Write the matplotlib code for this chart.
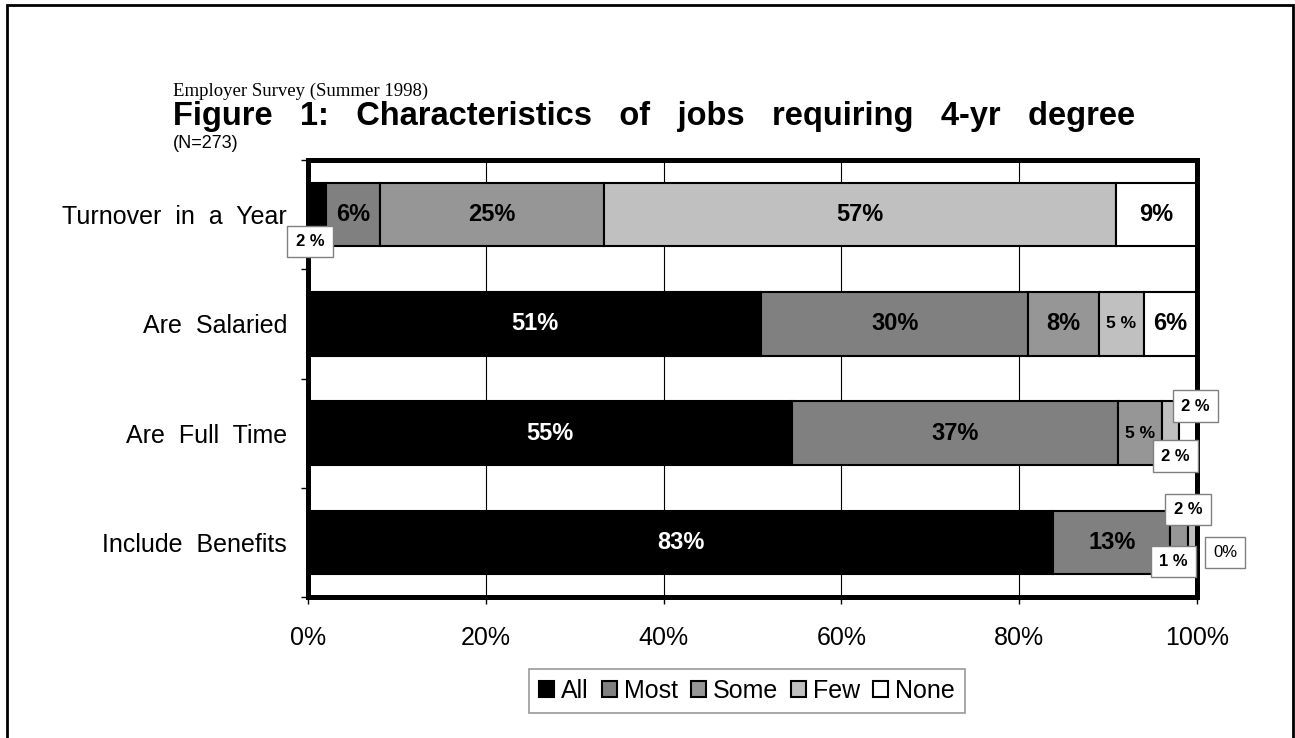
import numpy as np
import matplotlib.pyplot as plt
from matplotlib.patches import Rectangle

plt.rcParams['font.family'] = ['Liberation Sans', 'DejaVu Sans']

categories = ['Turnover in a Year', 'Are Salaried', 'Are Full Time', 'Include Benefits']
series = ['All', 'Most', 'Some', 'Few', 'None']
all_pct = [2, 51, 55, 83]
most_pct = [6, 30, 37, 13]
some_pct = [25, 8, 5, 2]
few_pct = [57, 5, 2, 1]
none_pct = [9, 6, 2, 0]
xtick_vals = [0, 20, 40, 60, 80, 100]

colors = ['#000000', '#808080', '#969696', '#c0c0c0', '#ffffff']

# labels moved off the bar for narrow segments: (row, series) -> offset in pixels
callouts = {(0, 0): (-7, -27), (2, 3): (5, -23), (2, 4): (7, 27),
            (3, 2): (9, 33), (3, 3): (-19, -19), (3, 4): (28, -10)}
small_inline = {(1, 3), (2, 2)}


def spaced(s, n=2):
    # wider word gaps
    return (' ' * n).join(s.split(' '))


data = np.array([all_pct, most_pct, some_pct, few_pct, none_pct], dtype=float).T
shares = data / data.sum(axis=1, keepdims=True) * 100  # 100% stacked
ypos = np.arange(len(categories))[::-1]

fig = plt.figure(figsize=(12.95, 7.38), dpi=100)
ax = fig.add_axes([308 / 1295, 1 - 597 / 738, 889 / 1295, 437 / 738])

left = np.zeros(len(categories))
for j, name in enumerate(series):
    ax.barh(ypos, shares[:, j], left=left, height=0.58, color=colors[j],
            edgecolor='black', linewidth=1.5, label=name, zorder=2)
    for i in range(len(categories)):
        v = int(data[i, j])
        cx = left[i] + shares[i, j] / 2
        if (i, j) in callouts:
            dx, dy = callouts[(i, j)]
            txt = f'{v}%' if v == 0 else f'{v} %'
            ax.annotate(txt, (cx, ypos[i]), xytext=(dx, dy), textcoords='offset pixels',
                        ha='center', va='center', fontsize=12,
                        fontweight='normal' if v == 0 else 'bold',
                        bbox=dict(boxstyle='square,pad=0.5', fc='white', ec='#808080', lw=1),
                        zorder=5, annotation_clip=False)
        elif (i, j) in small_inline:
            ax.text(cx, ypos[i], f'{v} %', ha='center', va='center', fontsize=12.5,
                    fontweight='bold', color='black', zorder=4)
        else:
            ax.text(cx, ypos[i], f'{v}%', ha='center', va='center', fontsize=17,
                    fontweight='bold', color='white' if j == 0 else 'black', zorder=4)
    left += shares[:, j]

ax.set_xlim(0, 100)
ax.set_ylim(-0.5, len(categories) - 0.5)
ax.set_xticks(xtick_vals)
ax.set_xticklabels([f'{t}%' for t in xtick_vals], fontsize=18)
ax.tick_params(axis='x', direction='out', length=5, width=1, pad=16)

ax.set_yticks(np.arange(len(categories) + 1) - 0.5)
ax.set_yticklabels([])
ax.set_yticks(ypos, minor=True)
ax.set_yticklabels([spaced(c) for c in categories], minor=True, fontsize=18)
ax.tick_params(axis='y', which='major', direction='out', length=5, width=1)
ax.tick_params(axis='y', which='minor', length=0, pad=15)

ax.grid(axis='x', color='black', linewidth=0.8)
ax.set_axisbelow(True)
for s in ax.spines.values():
    s.set_linewidth(3.6)

# titles
fig.text(173 / 1295, 1 - 91 / 738, 'Employer Survey (Summer 1998)', family='Liberation Serif',
         fontsize=13.5, ha='left', va='center')
fig.text(173 / 1295, 1 - 116 / 738,
         spaced('Figure 1: Characteristics of jobs requiring 4-yr degree', 3),
         fontsize=23.5, fontweight='bold', ha='left', va='center')
fig.text(173 / 1295, 1 - 143 / 738, '(N=273)', fontsize=13, ha='left', va='center')

leg = fig.legend(loc='center', bbox_to_anchor=(747 / 1295, 1 - 691 / 738), ncol=5,
                 fontsize=18, frameon=True, fancybox=False, edgecolor='#808080',
                 handlelength=0.6, handleheight=0.6, handletextpad=0.3, columnspacing=0.5,
                 borderpad=0.4)
leg.get_frame().set_linewidth(1.2)

# outer frame around the whole chart
fig.add_artist(Rectangle((7 / 1295, -0.1), 1286 / 1295, 1.1 - 5 / 738, transform=fig.transFigure,
                         fill=False, edgecolor='black', linewidth=2))

fig.savefig('out.png', dpi=100)
